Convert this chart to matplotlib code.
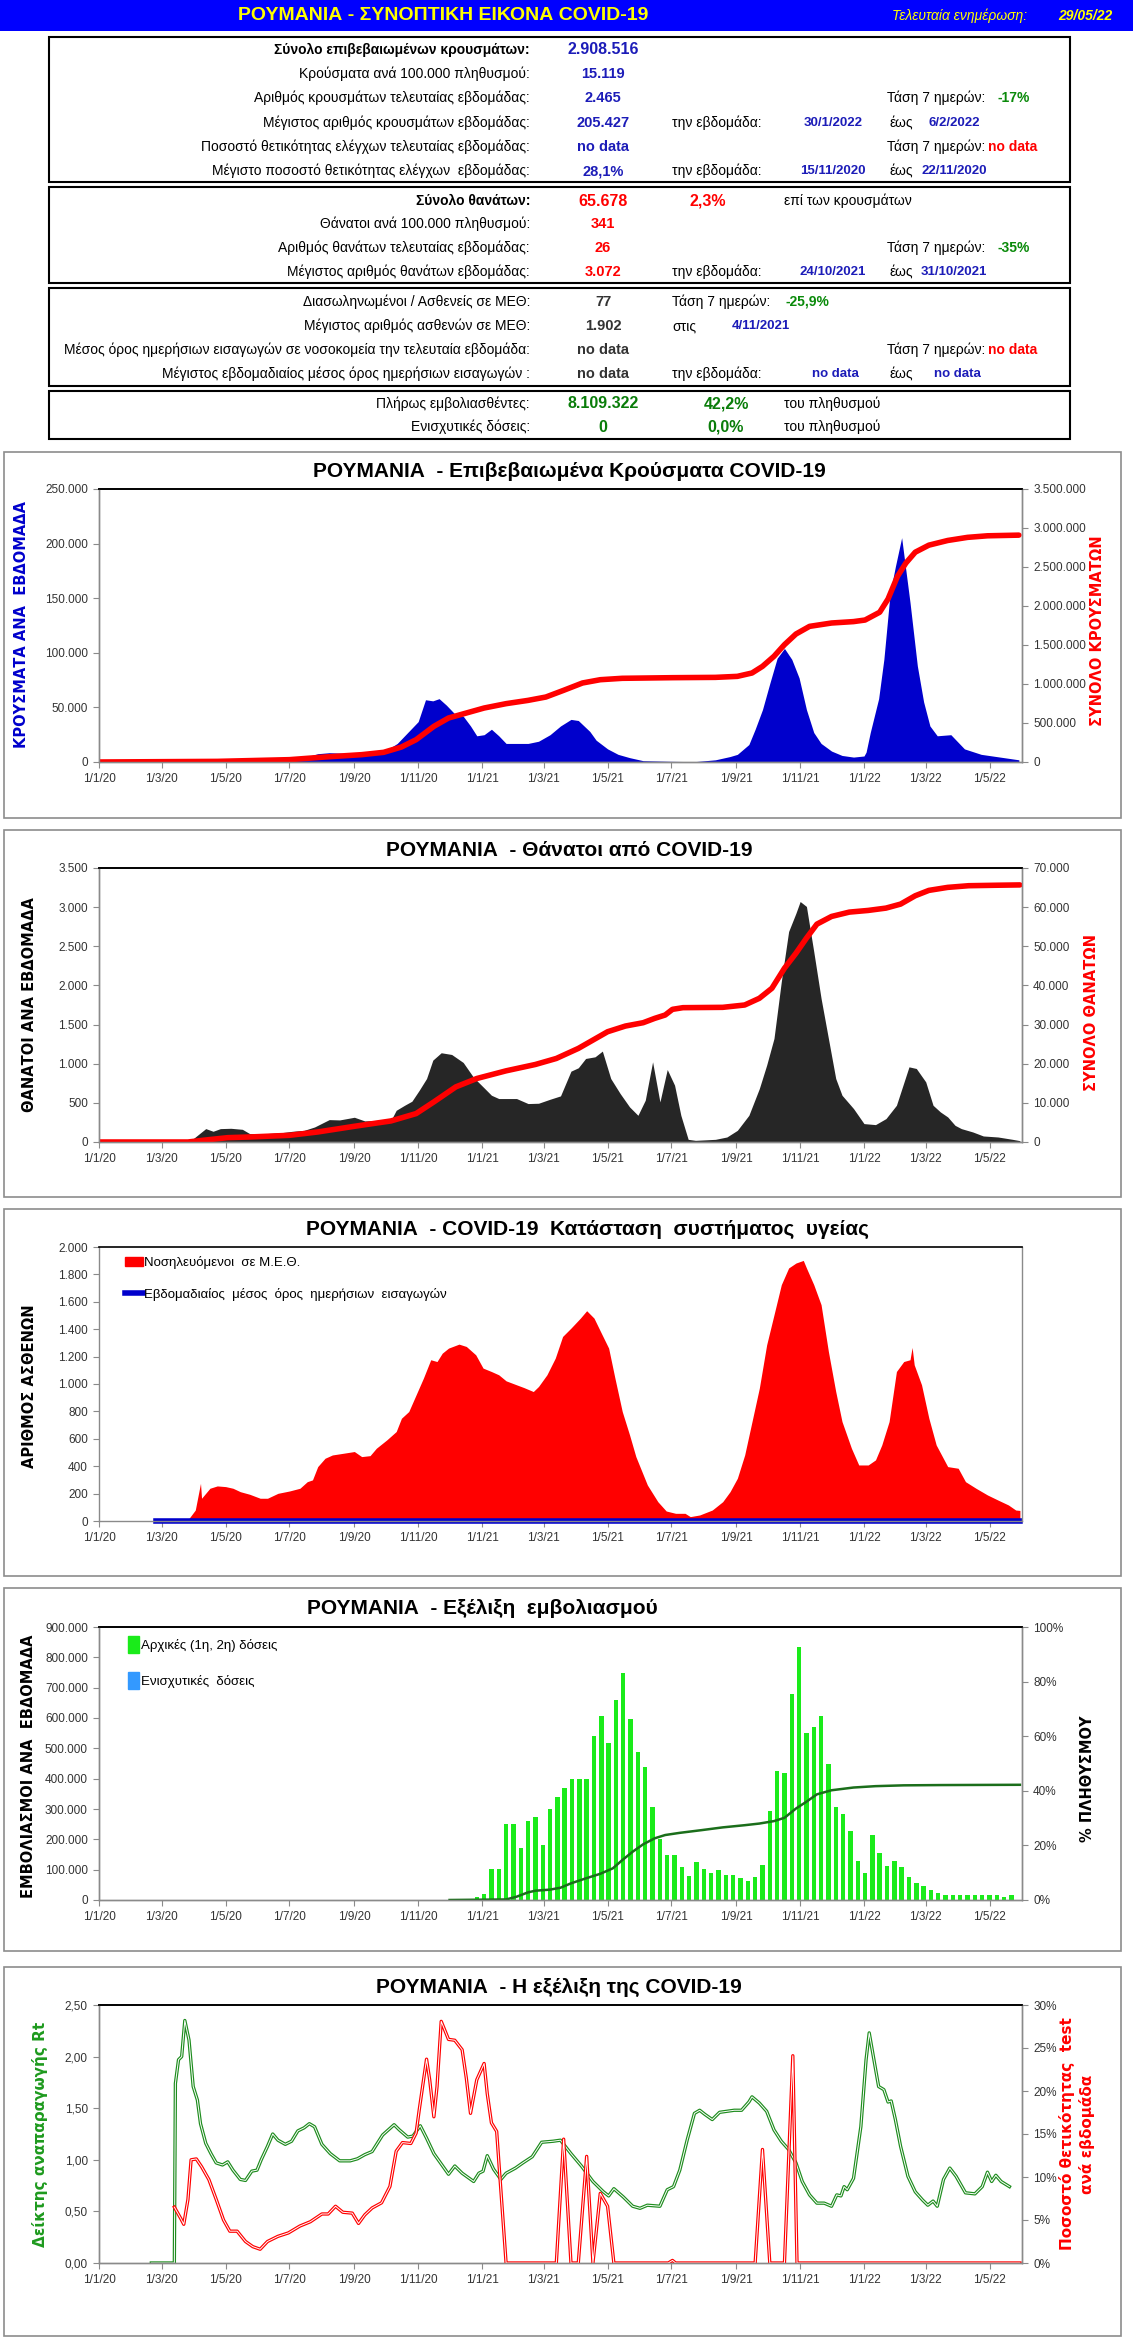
import pandas as pd
import matplotlib
matplotlib.use('Agg')
import matplotlib.pyplot as plt
import matplotlib.dates as mdates
from matplotlib import font_manager
from matplotlib.ticker import FuncFormatter, MultipleLocator
from matplotlib.patches import Rectangle, Patch
from matplotlib.lines import Line2D

# ---- data ----
case_dates = ["2020-01-01", "2020-03-19", "2020-04-05", "2020-05-20", "2020-07-01", "2020-07-15",
              "2020-07-28", "2020-08-08", "2020-08-22", "2020-09-01", "2020-09-22", "2020-10-02",
              "2020-10-12", "2020-10-23", "2020-11-01", "2020-11-08", "2020-11-15", "2020-11-21",
              "2020-11-28", "2020-12-07", "2020-12-14", "2020-12-21", "2020-12-27", "2021-01-03",
              "2021-01-10", "2021-01-17", "2021-01-24", "2021-02-03", "2021-02-14", "2021-02-24",
              "2021-03-07", "2021-03-17", "2021-03-27", "2021-04-03", "2021-04-14", "2021-04-20",
              "2021-05-01", "2021-05-11", "2021-05-22", "2021-06-04", "2021-07-01", "2021-07-23",
              "2021-08-12", "2021-08-26", "2021-09-02", "2021-09-13", "2021-09-19", "2021-09-26",
              "2021-10-03", "2021-10-10", "2021-10-17", "2021-10-24", "2021-10-31", "2021-11-07",
              "2021-11-14", "2021-11-21", "2021-12-01", "2021-12-11", "2021-12-22", "2022-01-01",
              "2022-01-03", "2022-01-07", "2022-01-15", "2022-01-20", "2022-01-26", "2022-01-31",
              "2022-02-06", "2022-02-14", "2022-02-21", "2022-02-27", "2022-03-05", "2022-03-12",
              "2022-03-25", "2022-04-07", "2022-04-23", "2022-05-29"]
cases_week = [0, 0, 2000, 1500, 3000, 4000, 7600, 8500, 8000, 8000, 9000, 11000,
              17000, 28000, 37000, 57000, 56000, 58000, 52000, 43000, 42000, 33000, 24000, 25000,
              30000, 24000, 17000, 17000, 17000, 19000, 25000, 33000, 39000, 38000, 28000, 20000,
              12000, 7000, 4000, 1200, 600, 300, 2000, 5000, 7000, 16000, 30000, 48000,
              72000, 95000, 104000, 94000, 77000, 48000, 27000, 17000, 10000, 6000, 4500, 5500,
              9000, 27000, 58000, 94000, 155000, 179000, 205427, 146000, 88000, 55000, 33000, 24000,
              25000, 12000, 7000, 2000]

cum_case_dates = ["2020-01-01", "2020-04-23", "2020-07-01", "2020-08-04", "2020-09-08", "2020-09-29",
                  "2020-10-16", "2020-10-30", "2020-11-16", "2020-11-30", "2020-12-17", "2021-01-03",
                  "2021-01-24", "2021-02-14", "2021-03-03", "2021-03-20", "2021-04-07", "2021-04-24",
                  "2021-05-15", "2021-07-02", "2021-08-12", "2021-09-02", "2021-09-16", "2021-09-26",
                  "2021-10-07", "2021-10-17", "2021-10-28", "2021-11-10", "2021-12-01", "2021-12-22",
                  "2022-01-02", "2022-01-16", "2022-01-24", "2022-02-02", "2022-02-10", "2022-02-19",
                  "2022-03-04", "2022-03-22", "2022-04-10", "2022-04-29", "2022-05-29"]
cases_total = [0, 8000, 30000, 64000, 94000, 124000, 192000, 286000, 457000, 564000, 628000, 692000,
               748000, 790000, 833000, 919000, 1013000, 1055000, 1073000, 1081000, 1085000, 1098000,
               1141000, 1226000, 1355000, 1504000, 1641000, 1739000, 1782000, 1800000,
               1820000, 1920000, 2090000, 2380000, 2550000, 2690000, 2780000, 2840000, 2880000,
               2900000, 2908516]

death_dates = ["2020-01-01", "2020-03-23", "2020-03-29", "2020-04-12", "2020-04-19", "2020-04-26",
               "2020-05-06", "2020-05-17", "2020-05-24", "2020-06-03", "2020-06-24", "2020-07-04",
               "2020-07-15", "2020-07-25", "2020-08-08", "2020-08-18", "2020-09-01", "2020-09-11",
               "2020-09-25", "2020-10-06", "2020-10-11", "2020-10-19", "2020-10-26", "2020-11-02",
               "2020-11-09", "2020-11-15", "2020-11-23", "2020-12-03", "2020-12-14", "2020-12-24",
               "2021-01-03", "2021-01-10", "2021-01-17", "2021-02-03", "2021-02-14", "2021-02-24",
               "2021-03-07", "2021-03-17", "2021-03-27", "2021-04-03", "2021-04-10", "2021-04-19",
               "2021-04-26", "2021-05-04", "2021-05-13", "2021-05-22", "2021-05-30", "2021-06-06",
               "2021-06-13", "2021-06-20", "2021-06-27", "2021-07-04", "2021-07-10", "2021-07-17",
               "2021-07-24", "2021-08-12", "2021-08-23", "2021-09-02", "2021-09-13", "2021-09-23",
               "2021-09-30", "2021-10-07", "2021-10-14", "2021-10-21", "2021-10-28", "2021-11-01",
               "2021-11-07", "2021-11-14", "2021-11-21", "2021-11-28", "2021-12-05", "2021-12-11",
               "2021-12-22", "2022-01-01", "2022-01-12", "2022-01-22", "2022-02-01", "2022-02-13",
               "2022-02-20", "2022-03-01", "2022-03-08", "2022-03-15", "2022-03-22", "2022-03-29",
               "2022-04-04", "2022-04-15", "2022-04-25", "2022-05-09", "2022-05-23", "2022-05-30"]
deaths_week = [0, 0, 21, 171, 137, 171, 175, 162, 107, 102, 120, 137,
               149, 192, 286, 282, 316, 269, 277, 277, 405, 469, 521, 661,
               811, 1046, 1140, 1118, 1016, 824, 691, 597, 555, 555, 491, 495,
               546, 589, 905, 948, 1067, 1088, 1161, 811, 619, 448, 341, 534,
               1024, 512, 926, 726, 341, 34, 21, 34, 64, 149, 341, 683,
               982, 1323, 2049, 2689, 2924, 3072, 3009, 2433, 1835, 1323, 811, 597,
               427, 235, 222, 299, 469, 960, 939, 768, 469, 384, 320, 213,
               171, 128, 77, 64, 34, 17]

cum_death_dates = ["2020-01-01", "2020-03-26", "2020-04-09", "2020-05-03", "2020-05-24", "2020-07-01",
                   "2020-07-28", "2020-09-01", "2020-10-06", "2020-10-30", "2020-11-16", "2020-12-07",
                   "2020-12-27", "2021-01-24", "2021-02-21", "2021-03-13", "2021-04-03", "2021-05-01",
                   "2021-05-18", "2021-06-04", "2021-06-15", "2021-06-25", "2021-07-02", "2021-07-12",
                   "2021-08-19", "2021-09-09", "2021-09-23", "2021-10-05", "2021-10-17", "2021-10-28",
                   "2021-11-07", "2021-11-17", "2021-12-01", "2021-12-18", "2022-01-05", "2022-01-22",
                   "2022-02-05", "2022-02-19", "2022-03-04", "2022-03-22", "2022-04-11", "2022-05-09",
                   "2022-05-30"]
deaths_total = [0, 0, 427, 1110, 1281, 1707, 2561, 4012, 5378, 7256, 10244, 14085,
                16220, 18183, 19805, 21341, 23902, 28171, 29622, 30476, 31585, 32439, 33890, 34317,
                34402, 35000, 36707, 39268, 44390, 48232, 52073, 55659, 57622, 58732, 59159, 59756,
                60780, 62915, 64280, 65049, 65475, 65600, 65678]

icu_dates = ["2020-03-23", "2020-03-27", "2020-04-02", "2020-04-07", "2020-04-08", "2020-04-16",
             "2020-04-23", "2020-05-01", "2020-05-08", "2020-05-15", "2020-05-24", "2020-06-03",
             "2020-06-10", "2020-06-20", "2020-07-01", "2020-07-11", "2020-07-18", "2020-07-23",
             "2020-07-28", "2020-08-04", "2020-08-11", "2020-08-22", "2020-09-01", "2020-09-08",
             "2020-09-16", "2020-09-22", "2020-10-02", "2020-10-11", "2020-10-16", "2020-10-23",
             "2020-10-30", "2020-11-06", "2020-11-13", "2020-11-19", "2020-11-24", "2020-11-30",
             "2020-12-10", "2020-12-17", "2020-12-26", "2021-01-02", "2021-01-10", "2021-01-17",
             "2021-01-24", "2021-02-03", "2021-02-10", "2021-02-19", "2021-02-24", "2021-03-04",
             "2021-03-12", "2021-03-19", "2021-03-27", "2021-04-05", "2021-04-11", "2021-04-18",
             "2021-04-25", "2021-05-02", "2021-05-08", "2021-05-15", "2021-05-22", "2021-05-28",
             "2021-06-08", "2021-06-18", "2021-06-26", "2021-07-05", "2021-07-14", "2021-07-19",
             "2021-07-28", "2021-08-09", "2021-08-19", "2021-08-26", "2021-09-02", "2021-09-09",
             "2021-09-16", "2021-09-23", "2021-09-30", "2021-10-07", "2021-10-14", "2021-10-21",
             "2021-10-28", "2021-11-04", "2021-11-07", "2021-11-14", "2021-11-21", "2021-11-28",
             "2021-12-05", "2021-12-11", "2021-12-20", "2021-12-27", "2022-01-05", "2022-01-12",
             "2022-01-18", "2022-01-25", "2022-02-01", "2022-02-08", "2022-02-14", "2022-02-16",
             "2022-02-18", "2022-02-25", "2022-03-04", "2022-03-11", "2022-03-22", "2022-04-01",
             "2022-04-08", "2022-04-18", "2022-04-29", "2022-05-09", "2022-05-19", "2022-05-26",
             "2022-05-30"]
icu_patients = [0, 19, 80, 275, 166, 239, 256, 251, 239, 214, 195, 166,
                166, 202, 219, 239, 287, 300, 397, 458, 482, 495, 507, 470,
                477, 531, 592, 653, 750, 799, 921, 1043, 1177, 1164, 1225, 1262,
                1291, 1274, 1213, 1116, 1091, 1067, 1023, 994, 974, 945, 982, 1067,
                1189, 1347, 1408, 1481, 1535, 1481, 1371, 1262, 1043, 799, 628, 470,
                263, 141, 73, 56, 56, 32, 44, 80, 141, 214, 312, 482,
                726, 970, 1286, 1505, 1725, 1847, 1883, 1902, 1847, 1725, 1579, 1237,
                945, 726, 531, 409, 409, 446, 555, 726, 1091, 1164, 1177, 1267,
                1140, 994, 750, 555, 397, 385, 287, 239, 190, 153, 117, 80,
                77]
adm_dates = ["2020-02-24", "2022-05-30"]
adm_avg = [0, 0]

vacc_start = "2020-12-27"
vacc_week = [9000, 20000, 103000, 103000, 250000, 250000, 172000, 262000, 272000, 180000,
             300000, 338000, 368000, 398000, 400000, 398000, 540000, 608000, 517000, 660000,
             750000, 596000, 487000, 437000, 305000, 200000, 150000, 150000, 108000, 78000,
             124000, 102000, 88000, 98000, 84000, 84000, 72000, 62000, 75000, 117000,
             295000, 424000, 420000, 680000, 835000, 550000, 570000, 608000, 450000, 305000,
             285000, 228000, 128000, 88000, 213000, 155000, 112000, 128000, 108000, 76000,
             55000, 46000, 32000, 22000, 15000, 15000, 15000, 15000, 15000, 15000,
             15000, 15000, 11000, 16000]
booster_week = [0] * len(vacc_week)

vacc_pct_dates = ["2020-12-01", "2021-01-24", "2021-02-03", "2021-02-14", "2021-02-21", "2021-03-07",
                  "2021-03-17", "2021-03-27", "2021-04-10", "2021-04-24", "2021-05-06", "2021-05-15",
                  "2021-05-25", "2021-06-04", "2021-06-15", "2021-06-25", "2021-07-09", "2021-07-30",
                  "2021-08-19", "2021-09-09", "2021-09-23", "2021-10-07", "2021-10-17", "2021-10-28",
                  "2021-11-07", "2021-11-17", "2021-12-01", "2021-12-22", "2022-01-12", "2022-02-08",
                  "2022-03-15", "2022-05-30"]
vacc_pct = [0, 0.2, 1.2, 2.8, 3.4, 3.8, 4.5, 6.1, 7.9, 9.6, 11.6, 14.6,
            17.7, 20.4, 22.6, 23.8, 24.6, 25.6, 26.6, 27.4, 28.0, 28.9, 30.1, 33.5,
            36.0, 38.7, 40.2, 41.2, 41.7, 42.0, 42.1, 42.2]

rt_dates = ["2020-02-20", "2020-03-13", "2020-03-14", "2020-03-17", "2020-03-20", "2020-03-23",
            "2020-03-27", "2020-03-31", "2020-04-04", "2020-04-07", "2020-04-12", "2020-04-17",
            "2020-04-22", "2020-04-28", "2020-05-03", "2020-05-08", "2020-05-15", "2020-05-20",
            "2020-05-26", "2020-05-31", "2020-06-04", "2020-06-10", "2020-06-15", "2020-06-20",
            "2020-06-27", "2020-07-03", "2020-07-09", "2020-07-15", "2020-07-20", "2020-07-25",
            "2020-08-01", "2020-08-09", "2020-08-18", "2020-08-28", "2020-09-04", "2020-09-11",
            "2020-09-18", "2020-09-28", "2020-10-09", "2020-10-14", "2020-10-22", "2020-10-27",
            "2020-11-03", "2020-11-09", "2020-11-16", "2020-11-23", "2020-11-30", "2020-12-06",
            "2020-12-13", "2020-12-24", "2020-12-29", "2021-01-02", "2021-01-06", "2021-01-12",
            "2021-01-19", "2021-01-24", "2021-02-02", "2021-02-09", "2021-02-18", "2021-02-27",
            "2021-03-10", "2021-03-17", "2021-03-27", "2021-04-06", "2021-04-17", "2021-04-27",
            "2021-05-02", "2021-05-07", "2021-05-16", "2021-05-25", "2021-06-01", "2021-06-08",
            "2021-06-20", "2021-06-27", "2021-07-03", "2021-07-09", "2021-07-16", "2021-07-23",
            "2021-07-28", "2021-08-02", "2021-08-09", "2021-08-16", "2021-08-23", "2021-08-30",
            "2021-09-06", "2021-09-13", "2021-09-16", "2021-09-23", "2021-09-30", "2021-10-07",
            "2021-10-14", "2021-10-21", "2021-10-28", "2021-11-03", "2021-11-10", "2021-11-17",
            "2021-11-24", "2021-12-01", "2021-12-06", "2021-12-10", "2021-12-13", "2021-12-16",
            "2021-12-22", "2021-12-29", "2022-01-03", "2022-01-06", "2022-01-10", "2022-01-15",
            "2022-01-20", "2022-01-24", "2022-01-27", "2022-01-31", "2022-02-05", "2022-02-12",
            "2022-02-19", "2022-02-26", "2022-03-03", "2022-03-08", "2022-03-12", "2022-03-18",
            "2022-03-24", "2022-03-30", "2022-04-08", "2022-04-17", "2022-04-24", "2022-04-29",
            "2022-05-03", "2022-05-07", "2022-05-12", "2022-05-20"]
rt_values = [0, 0, 1.74, 1.97, 2.00, 2.35, 2.16, 1.71, 1.58, 1.35, 1.16, 1.06,
             0.97, 0.95, 0.98, 0.90, 0.81, 0.80, 0.89, 0.90, 1.00, 1.13, 1.25, 1.19,
             1.15, 1.18, 1.28, 1.31, 1.35, 1.32, 1.15, 1.06, 0.99, 0.99, 1.01, 1.05,
             1.08, 1.24, 1.34, 1.29, 1.22, 1.23, 1.33, 1.21, 1.06, 0.96, 0.86, 0.94,
             0.87, 0.79, 0.87, 0.89, 1.04, 0.91, 0.81, 0.87, 0.92, 0.97, 1.03, 1.17,
             1.18, 1.19, 1.06, 0.94, 0.79, 0.69, 0.65, 0.72, 0.64, 0.55, 0.53, 0.56,
             0.55, 0.71, 0.74, 0.90, 1.19, 1.45, 1.48, 1.44, 1.39, 1.46, 1.47, 1.48,
             1.48, 1.56, 1.61, 1.55, 1.47, 1.29, 1.18, 1.10, 0.97, 0.79, 0.66, 0.58,
             0.58, 0.55, 0.66, 0.65, 0.74, 0.71, 0.82, 1.32, 1.97, 2.23, 2.00, 1.71,
             1.68, 1.56, 1.57, 1.39, 1.13, 0.84, 0.69, 0.61, 0.56, 0.60, 0.55, 0.81,
             0.92, 0.84, 0.68, 0.67, 0.74, 0.88, 0.79, 0.85, 0.79, 0.74]

pos_dates = ["2020-03-13", "2020-03-19", "2020-03-22", "2020-03-26", "2020-03-29", "2020-04-03",
             "2020-04-08", "2020-04-15", "2020-04-22", "2020-04-29", "2020-05-05", "2020-05-12",
             "2020-05-20", "2020-05-27", "2020-06-03", "2020-06-10", "2020-06-20", "2020-06-30",
             "2020-07-11", "2020-07-21", "2020-08-01", "2020-08-07", "2020-08-14", "2020-08-21",
             "2020-08-30", "2020-09-05", "2020-09-11", "2020-09-18", "2020-09-27", "2020-10-05",
             "2020-10-11", "2020-10-17", "2020-10-25", "2020-10-30", "2020-11-02", "2020-11-09",
             "2020-11-12", "2020-11-16", "2020-11-19", "2020-11-23", "2020-11-30", "2020-12-06",
             "2020-12-13", "2020-12-17", "2020-12-21", "2020-12-27", "2021-01-03", "2021-01-06",
             "2021-01-10", "2021-01-15", "2021-01-24", "2021-03-13", "2021-03-20", "2021-03-27",
             "2021-04-03", "2021-04-11", "2021-04-17", "2021-04-24", "2021-05-01", "2021-05-07",
             "2021-06-28", "2021-07-02", "2021-07-05", "2021-09-19", "2021-09-26", "2021-10-03",
             "2021-10-17", "2021-10-25", "2021-10-29", "2022-05-30"]
pos_values = [6.5, 5.2, 4.5, 7.4, 12.0, 12.1, 11.2, 9.7, 7.4, 5.0, 3.7, 3.7,
              2.5, 1.9, 1.6, 2.5, 3.1, 3.5, 4.3, 4.8, 5.7, 5.7, 6.6, 5.9,
              5.8, 4.6, 5.6, 6.4, 7.0, 8.9, 13.0, 14.0, 13.9, 15.1, 17.8, 23.7,
              21.3, 17.0, 20.5, 28.1, 26.0, 25.9, 24.8, 21.5, 17.4, 21.3, 23.2, 19.7,
              16.3, 15.3, 0, 0, 14.4, 0, 0, 12.4, 0, 8.1, 6.6, 0,
              0, 0.3, 0, 0, 13.2, 0, 0, 24.1, 0, 0]

W, H = 1133, 2345

installed = {f.name for f in font_manager.fontManager.ttflist}
NARROW = 'Liberation Sans Narrow' if 'Liberation Sans Narrow' in installed else 'Liberation Sans'
plt.rcParams['font.family'] = [NARROW, 'DejaVu Sans']
WIDE = ['DejaVu Sans']

BLUE_TXT = '#1c1cb8'
GREEN_TXT = '#0a8a0a'
GRAY_AX = '#8a8a8a'


def fx(x):
    return x / W


def fy(y):
    return 1 - y / H


def thousands(v, pos):
    return f"{int(round(v)):,}".replace(",", ".")


def date_lbl(x, pos):
    d = mdates.num2date(x)
    return f"{d.day}/{d.month}/{d:%y}"


fig = plt.figure(figsize=(W / 100, H / 100), dpi=100)

# ---- header ----
fig.add_artist(Rectangle((0, fy(31)), 1, 31 / H, transform=fig.transFigure, color='#0000ff', lw=0))
fig.text(fx(443), fy(16), "ΡΟΥΜΑΝΙΑ - ΣΥΝΟΠΤΙΚΗ ΕΙΚΟΝΑ COVID-19", color='#ffff00',
         fontsize=14, fontweight='bold', ha='center', va='center')
fig.text(fx(892), fy(16), "Τελευταία ενημέρωση:", color='#ffff00', fontsize=10,
         fontstyle='italic', ha='left', va='center')
fig.text(fx(1058), fy(16), "29/05/22", color='#ffff00', fontsize=10, fontstyle='italic',
         fontweight='bold', ha='left', va='center')

# ---- summary tables ----
for top, bot in [(37, 182), (187, 283), (288, 386), (391, 439)]:
    fig.add_artist(Rectangle((fx(49), fy(bot)), (1070 - 49) / W, (bot - top) / H,
                             transform=fig.transFigure, fill=False, ec='black', lw=1.5))


def label(y, s, bold=False):
    fig.text(fx(530), fy(y), s, ha='right', va='center', fontsize=10,
             fontweight='bold' if bold else 'normal')


def val(x, y, s, color, size=10, ha='center'):
    fig.text(fx(x), fy(y), s, ha=ha, va='center', fontsize=size, fontweight='bold', color=color)


def plain(x, y, s):
    fig.text(fx(x), fy(y), s, ha='left', va='center', fontsize=10)


# table 1
rows1 = [50, 74, 98, 123, 147, 171]
label(rows1[0], "Σύνολο επιβεβαιωμένων κρουσμάτων:", bold=True)
label(rows1[1], "Κρούσματα ανά 100.000 πληθυσμού:")
label(rows1[2], "Αριθμός κρουσμάτων τελευταίας εβδομάδας:")
label(rows1[3], "Μέγιστος αριθμός κρουσμάτων εβδομάδας:")
label(rows1[4], "Ποσοστό θετικότητας ελέγχων τελευταίας εβδομάδας:")
label(rows1[5], "Μέγιστο ποσοστό θετικότητας ελέγχων  εβδομάδας:")
val(603, rows1[0], "2.908.516", BLUE_TXT, 11.5)
val(603, rows1[1], "15.119", BLUE_TXT, 10.5)
val(603, rows1[2], "2.465", BLUE_TXT, 10.5)
val(603, rows1[3], "205.427", BLUE_TXT, 10.5)
val(603, rows1[4], "no data", BLUE_TXT, 10.5)
val(603, rows1[5], "28,1%", BLUE_TXT, 10.5)
plain(887, rows1[2], "Τάση 7 ημερών:")
val(997, rows1[2], "-17%", GREEN_TXT, 10, ha='left')
plain(672, rows1[3], "την εβδομάδα:")
val(833, rows1[3], "30/1/2022", BLUE_TXT, 9.5)
plain(889, rows1[3], "έως")
val(954, rows1[3], "6/2/2022", BLUE_TXT, 9.5)
plain(887, rows1[4], "Τάση 7 ημερών:")
val(988, rows1[4], "no data", '#ff0000', 10, ha='left')
plain(672, rows1[5], "την εβδομάδα:")
val(833, rows1[5], "15/11/2020", BLUE_TXT, 9.5)
plain(889, rows1[5], "έως")
val(954, rows1[5], "22/11/2020", BLUE_TXT, 9.5)

# table 2
rows2 = [201, 224, 248, 272]
label(rows2[0], "Σύνολο θανάτων:", bold=True)
label(rows2[1], "Θάνατοι ανά 100.000 πληθυσμού:")
label(rows2[2], "Αριθμός θανάτων τελευταίας εβδομάδας:")
label(rows2[3], "Μέγιστος αριθμός θανάτων εβδομάδας:")
val(603, rows2[0], "65.678", '#ff0000', 11.5)
val(708, rows2[0], "2,3%", '#ff0000', 11.5)
plain(784, rows2[0], "επί των κρουσμάτων")
val(603, rows2[1], "341", '#ff0000', 10.5)
val(603, rows2[2], "26", '#ff0000', 10.5)
plain(887, rows2[2], "Τάση 7 ημερών:")
val(997, rows2[2], "-35%", GREEN_TXT, 10, ha='left')
val(603, rows2[3], "3.072", '#ff0000', 10.5)
plain(672, rows2[3], "την εβδομάδα:")
val(833, rows2[3], "24/10/2021", BLUE_TXT, 9.5)
plain(889, rows2[3], "έως")
val(954, rows2[3], "31/10/2021", BLUE_TXT, 9.5)

# table 3
rows3 = [302, 326, 350, 374]
label(rows3[0], "Διασωληνωμένοι / Ασθενείς σε ΜΕΘ:")
label(rows3[1], "Μέγιστος αριθμός ασθενών σε ΜΕΘ:")
label(rows3[2], "Μέσος όρος ημερήσιων εισαγωγών σε νοσοκομεία την τελευταία εβδομάδα:")
label(rows3[3], "Μέγιστος εβδομαδιαίος μέσος όρος ημερήσιων εισαγωγών :")
val(603, rows3[0], "77", '#333333', 10.5)
plain(672, rows3[0], "Τάση 7 ημερών:")
val(785, rows3[0], "-25,9%", GREEN_TXT, 10, ha='left')
val(603, rows3[1], "1.902", '#333333', 10.5)
plain(672, rows3[1], "στις")
val(761, rows3[1], "4/11/2021", BLUE_TXT, 9.5)
val(603, rows3[2], "no data", '#333333', 10.5)
plain(887, rows3[2], "Τάση 7 ημερών:")
val(988, rows3[2], "no data", '#ff0000', 10, ha='left')
val(603, rows3[3], "no data", '#333333', 10.5)
plain(672, rows3[3], "την εβδομάδα:")
val(835, rows3[3], "no data", BLUE_TXT, 9.5)
plain(889, rows3[3], "έως")
val(957, rows3[3], "no data", BLUE_TXT, 9.5)

# table 4
rows4 = [404, 427]
label(rows4[0], "Πλήρως εμβολιασθέντες:")
label(rows4[1], "Ενισχυτικές δόσεις:")
val(603, rows4[0], "8.109.322", '#0a7d0a', 11.5)
val(726, rows4[0], "42,2%", '#0a7d0a', 11.5)
plain(784, rows4[0], "του πληθυσμού")
val(603, rows4[1], "0", '#0a7d0a', 11.5)
val(726, rows4[1], "0,0%", '#0a7d0a', 11.5)
plain(784, rows4[1], "του πληθυσμού")

# ---- chart panels ----
XMIN, XMAX = pd.Timestamp("2020-01-01"), pd.Timestamp("2022-06-01")


def panel(box_top, box_bot, ax_top, ax_bot, title, title_x):
    fig.add_artist(Rectangle((fx(4), fy(box_bot)), (1121 - 4) / W, (box_bot - box_top) / H,
                             transform=fig.transFigure, fill=False, ec='#8c8c8c', lw=1.2))
    fig.text(fx(title_x), fy((box_top + ax_top) / 2 + 1), title, ha='center', va='center',
             fontsize=15, fontweight='bold')
    ax = fig.add_axes([fx(99), fy(ax_bot), (1022 - 99) / W, (ax_bot - ax_top) / H])
    ax.set_xlim(XMIN, XMAX)
    ax.xaxis.set_major_locator(mdates.MonthLocator(bymonth=[1, 3, 5, 7, 9, 11]))
    ax.xaxis.set_major_formatter(FuncFormatter(date_lbl))
    style(ax)
    return ax


def style(ax):
    for side in ['left', 'right', 'bottom']:
        ax.spines[side].set_color(GRAY_AX)
        ax.spines[side].set_linewidth(1)
    ax.spines['top'].set_color('black')
    ax.spines['top'].set_linewidth(1.2)
    ax.tick_params(direction='out', length=4, color=GRAY_AX, labelsize=8.5,
                   labelcolor='#333333', pad=4)


def twin(ax):
    ax2 = ax.twinx()
    style(ax2)
    ax2.set_xlim(XMIN, XMAX)
    return ax2


def side_label(x, y, s, color, size=10.5, family=None):
    fig.text(fx(x), fy(y), s, rotation=90, ha='center', va='center', color=color,
             fontsize=size, fontweight='bold', family=family or WIDE, linespacing=1.3)


# panel 1: cases
ax = panel(452, 818, 489, 762, "ΡΟΥΜΑΝΙΑ  - Επιβεβαιωμένα Κρούσματα COVID-19", 569)
ax.fill_between(pd.to_datetime(case_dates), cases_week, color='#0000cc', lw=0)
ax.set_ylim(0, 250000)
ax.yaxis.set_major_locator(MultipleLocator(50000))
ax.yaxis.set_major_formatter(FuncFormatter(thousands))
ax2 = twin(ax)
ax2.plot(pd.to_datetime(cum_case_dates), cases_total, color='#ff0000', lw=4,
         solid_capstyle='round')
ax2.set_ylim(0, 3500000)
ax2.yaxis.set_major_locator(MultipleLocator(500000))
ax2.yaxis.set_major_formatter(FuncFormatter(thousands))
side_label(22, 625, "ΚΡΟΥΣΜΑΤΑ ΑΝΑ  ΕΒΔΟΜΑΔΑ", '#0000cc')
side_label(1098, 631, "ΣΥΝΟΛΟ ΚΡΟΥΣΜΑΤΩΝ", '#ff0000')

# panel 2: deaths
ax = panel(830, 1197, 868, 1142, "ΡΟΥΜΑΝΙΑ  - Θάνατοι από COVID-19", 569)
ax.fill_between(pd.to_datetime(death_dates), deaths_week, color='#262626', lw=0)
ax.set_ylim(0, 3500)
ax.yaxis.set_major_locator(MultipleLocator(500))
ax.yaxis.set_major_formatter(FuncFormatter(thousands))
ax2 = twin(ax)
ax2.plot(pd.to_datetime(cum_death_dates), deaths_total, color='#ff0000', lw=4,
         solid_capstyle='round')
ax2.set_ylim(0, 70000)
ax2.yaxis.set_major_locator(MultipleLocator(10000))
ax2.yaxis.set_major_formatter(FuncFormatter(thousands))
side_label(30, 1005, "ΘΑΝΑΤΟΙ ΑΝΑ ΕΒΔΟΜΑΔΑ", 'black')
side_label(1091, 1013, "ΣΥΝΟΛΟ ΘΑΝΑΤΩΝ", '#ff0000')

# panel 3: ICU
ax = panel(1209, 1576, 1247, 1521, "ΡΟΥΜΑΝΙΑ  - COVID-19  Κατάσταση  συστήματος  υγείας", 587)
ax.fill_between(pd.to_datetime(icu_dates), icu_patients, color='#ff0000', lw=0)
ax.plot(pd.to_datetime(adm_dates), adm_avg, color='#0000cc', lw=4, clip_on=False)
ax.set_ylim(0, 2000)
ax.yaxis.set_major_locator(MultipleLocator(200))
ax.yaxis.set_major_formatter(FuncFormatter(thousands))
ax.tick_params(axis='y', right=False)
handles = [Patch(color='#ff0000'), Line2D([], [], color='#0000cc', lw=4)]
ax.legend(handles, ["Νοσηλευόμενοι  σε Μ.Ε.Θ.", "Εβδομαδιαίος  μέσος  όρος  ημερήσιων  εισαγωγών"],
          loc='upper left', bbox_to_anchor=(0.022, 0.985), frameon=False, fontsize=9.5,
          labelspacing=1.4, handlelength=1.4, handletextpad=0.1, borderaxespad=0)
side_label(30, 1386, "ΑΡΙΘΜΟΣ ΑΣΘΕΝΩΝ", 'black')

# panel 4: vaccination
ax = panel(1588, 1951, 1627, 1900, "ΡΟΥΜΑΝΙΑ  - Εξέλιξη  εμβολιασμού", 482)
vacc_dates = pd.date_range(vacc_start, periods=len(vacc_week), freq='7D')
ax.bar(vacc_dates, vacc_week, width=4.2, color='#1aeb1a', lw=0)
ax.bar(vacc_dates, booster_week, bottom=vacc_week, width=4.2, color='#3399ff', lw=0)
ax.set_xlim(XMIN, XMAX)
ax.set_ylim(0, 900000)
ax.yaxis.set_major_locator(MultipleLocator(100000))
ax.yaxis.set_major_formatter(FuncFormatter(thousands))
handles = [Patch(color='#1aeb1a'), Patch(color='#3399ff')]
ax.legend(handles, ["Αρχικές (1η, 2η) δόσεις", "Ενισχυτικές  δόσεις"],
          loc='upper left', bbox_to_anchor=(0.026, 0.985), frameon=False, fontsize=9.5,
          labelspacing=1.4, handlelength=0.8, handleheight=1.6, handletextpad=0.2,
          borderaxespad=0)
ax2 = twin(ax)
ax2.plot(pd.to_datetime(vacc_pct_dates), vacc_pct, color='#1b6e1b', lw=1.8)
ax2.set_ylim(0, 100)
ax2.yaxis.set_major_locator(MultipleLocator(20))
ax2.yaxis.set_major_formatter(FuncFormatter(lambda v, p: f"{v:.0f}%"))
side_label(29, 1766, "ΕΜΒΟΛΙΑΣΜΟΙ ΑΝΑ  ΕΒΔΟΜΑΔΑ", 'black')
side_label(1088, 1779, "% ΠΛΗΘΥΣΜΟΥ", 'black')

# panel 5: Rt and positivity
ax = panel(1967, 2336, 2005, 2263, "ΡΟΥΜΑΝΙΑ  - Η εξέλιξη της COVID-19", 559)
rt_d = pd.to_datetime(rt_dates)
ax.plot(rt_d, rt_values, color='#1e8c1e', lw=2.4)
ax.plot(rt_d, rt_values, color='white', lw=0.7)
ax.set_ylim(0, 2.5)
ax.yaxis.set_major_locator(MultipleLocator(0.5))
ax.yaxis.set_major_formatter(FuncFormatter(lambda v, p: f"{v:.2f}".replace(".", ",")))
ax2 = twin(ax)
pos_d = pd.to_datetime(pos_dates)
ax2.plot(pos_d, pos_values, color='#ff0000', lw=2.4)
ax2.plot(pos_d, pos_values, color='white', lw=0.7)
ax2.set_ylim(0, 30)
ax2.yaxis.set_major_locator(MultipleLocator(5))
ax2.yaxis.set_major_formatter(FuncFormatter(lambda v, p: f"{v:.0f}%"))
side_label(40, 2134, "Δείκτης αναπαραγωγής Rt", '#1e9a1e', size=11)
side_label(1077, 2134, "Ποσοστό θετικότητας  test\nανά εβδομάδα", '#ff0000', size=11)

fig.savefig("out.png", dpi=100)
